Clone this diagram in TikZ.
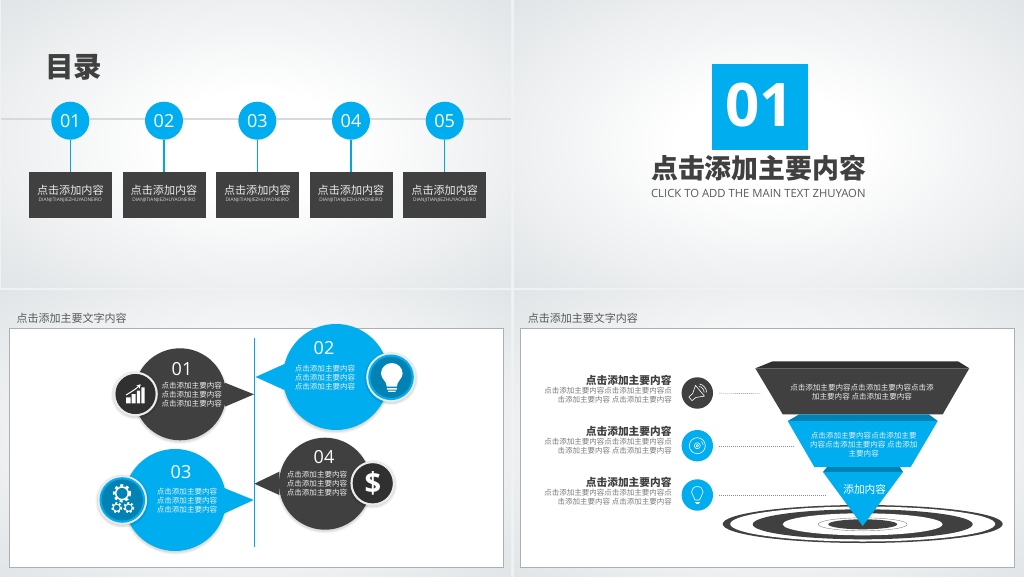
\documentclass[tikz,border=0pt]{standalone}
\usepackage{fontspec}
\setmainfont{Open Sans}
\newfontfamily\cjk{Noto Sans CJK SC}
\usetikzlibrary{arrows.meta,calc}
\definecolor{BlueClr}{HTML}{00AEEF}
\definecolor{DeepClr}{HTML}{0082B4}
\definecolor{DarkClr}{HTML}{404040}
\definecolor{BandClr}{HTML}{303030}
\definecolor{RuleClr}{HTML}{D6DADB}
\definecolor{EdgeClr}{HTML}{ADB0B2}
\definecolor{PageClr}{HTML}{EFF1F2}
\definecolor{MidClr}{HTML}{EDEFF0}
\definecolor{RimClr}{HTML}{E1E5E7}
\pgfdeclareradialshading{PanelShade}{\pgfpoint{0bp}{0bp}}{color(0bp)=(white);color(9bp)=(white);color(25bp)=(MidClr);color(35bp)=(RimClr);color(50bp)=(RimClr)}
\newcommand{\zh}[1]{\cjk\fontsize{#1}{#1}\selectfont}
\newcommand{\zhl}[1]{\cjk\fontsize{#1}{9}\selectfont}
\tikzset{
numcirc/.style={circle,fill=BlueClr,text=white,minimum size=38pt,inner sep=0pt,font=\fontsize{18}{18}\selectfont},
listbox/.style={rectangle,fill=DarkClr,minimum width=83pt,minimum height=45.5pt,inner sep=0pt},
bubtext/.style={inner sep=0pt,align=center,text=white!93!black,font=\zhl{7.55}},
bubnum/.style={inner sep=0pt,text=white,font=\fontsize{18}{18}\selectfont},
sidehead/.style={inner sep=0pt,anchor=east,text=DarkClr,font=\zh{10.7}\bfseries},
sidetext/.style={inner sep=0pt,anchor=east,align=right,text=black!52,font=\zhl{7.5}},
sidecirc/.style={circle,minimum size=31.4pt,inner sep=0pt},
guide/.style={draw=black!45,line width=.4pt,dash pattern=on 1.2pt off .8pt,shorten <=6pt},
heading/.style={inner sep=0pt,anchor=west,text=black!65,font=\zh{11}},
iconline/.style={draw=white,line width=.6pt,line join=round}
}

\begin{document}
\begin{tikzpicture}[x=1pt,y=-1pt]
\useasboundingbox (0,0) rectangle (1024,577);
\fill[PageClr] (0,0) rectangle (1024,577);
\foreach \xa/\ya/\xb/\yb in {1/0/511/287,514/0/1024/287,0/290/511/577,514/290/1024/577}
\shade[shading=PanelShade] (\xa,\ya) rectangle (\xb,\yb);

\node[inner sep=0pt,text=DarkClr,font=\zh{28.5}\bfseries] (Title) at (73.5,67) {目录};
\draw[RuleClr,line width=2pt] (1,118.7) -- (511,118.7);
\foreach \i/\cx in {1/70.3,2/164,3/257.3,4/351,5/444.7}{
\node[numcirc] (N\i) at (\cx,120.7) {0\i};
\node[listbox] (B\i) at (\cx,195.2) {};
\draw[BlueClr!80!DeepClr,line width=1.1pt] (N\i) -- (B\i);
\node[inner sep=0pt,text=white!92!black,font=\zh{11.1}] (T\i) at (\cx,190.7) {点击添加内容};
\node[inner sep=0pt,text=white!85!black,font=\fontsize{4.8}{5}\selectfont] (S\i) at (\cx,200) {DIANJITIANJIEZHUYAONEIRO};
}

\node[rectangle,fill=BlueClr,minimum width=95.7pt,minimum height=85.7pt,inner sep=0pt] (CoverBox) at (759.8,106.9) {};
\node[inner sep=0pt,text=white,font=\fontsize{60}{60}\selectfont\bfseries] (CoverNum) at (759.8,105) {01};
\node[inner sep=0pt,text=DarkClr,font=\zh{26.9}\bfseries] (CoverHead) at (758.7,168) {点击添加主要内容};
\node[inner sep=0pt,text=black!65,font=\fontsize{11.3}{12}\selectfont] (CoverSub) at (758.3,193) {CLICK TO ADD THE MAIN TEXT ZHUYAON};

\node[heading] (HeadL) at (16.5,318) {点击添加主要文字内容};
\node[heading] (HeadR) at (527.7,318) {点击添加主要文字内容};
\draw[EdgeClr,fill=white,line width=.8pt] (9.4,328.7) rectangle (503.7,567.4);
\draw[EdgeClr,fill=white,line width=.8pt] (520.4,328.7) rectangle (1014.7,567.4);

\foreach \cx/\cy/\r/\tx/\bx/\up/\lo/\clr in {180/394.3/46/254/225/382.7/406.7/DarkClr,336/377/53/255.5/286/363.3/390.7/BlueClr,175/500/51/253.7/221/486.7/515/BlueClr,325/483.7/46/254.3/279.3/471.7/495/DarkClr}{
\foreach \s in {0,1,2,3}
\fill[black,opacity=.035] (\cx,\cy+1.5) circle (\r+\s*.7);
\fill[\clr] (\cx,\cy) circle (\r);
\fill[\clr] (\bx,\up) -- (\tx,\cy) -- (\bx,\lo) -- cycle;
}
\draw[BlueClr!80!DeepClr,line width=1.1pt] (254.5,338) -- (254.5,546.7);

\foreach \cx/\cy/\ra/\rb/\rc/\clr/\rim in {135.5/394/22.3/20/19.8/BandClr/BandClr,372.7/483.3/22.3/20/19.8/BandClr/BandClr,391/377.3/24.8/22.8/20.6/BlueClr/DeepClr,122.3/500/24.8/22.8/20.6/BlueClr/DeepClr}{
\foreach \s in {0,1,2,3}
\fill[black,opacity=.035] (\cx,\cy+1) circle (\ra+\s*.7);
\fill[white!92!black] (\cx,\cy) circle (\ra);
\fill[\clr] (\cx,\cy) circle (\rb);
\fill[\rim] (\cx,\cy) circle (\rc);
}

\node[bubnum] (NumA) at (182,369) {01};
\node[bubtext] (TextA) at (191.7,394.5) {点击添加主要内容\\点击添加主要内容\\点击添加主要内容};
\node[bubnum] (NumB) at (324,347.7) {02};
\node[bubtext] (TextB) at (325,378) {点击添加主要内容\\点击添加主要内容\\点击添加主要内容};
\node[bubnum] (NumC) at (181,471.7) {03};
\node[bubtext] (TextC) at (187,501) {点击添加主要内容\\点击添加主要内容\\点击添加主要内容};
\node[bubnum] (NumD) at (324,457) {04};
\node[bubtext] (TextD) at (317,483.7) {点击添加主要内容\\点击添加主要内容\\点击添加主要内容};

\fill[white] (126,397.3) rectangle (130.5,403.3) (131.7,394) rectangle (135.5,403.3) (136.8,390.7) rectangle (140.2,403.3) (141.3,387.3) rectangle (144.5,403.3);
\draw[white,line width=1pt,-{Stealth[length=4pt,width=4.5pt]}] (126,395) .. controls (131,392) and (136,389) .. (140.7,384.3);

\fill[white] (386.8,386.5) .. controls (386.8,381) and (381,379) .. (381,373.5) arc[start angle=180,end angle=360,x radius=10.8,y radius=10.5] .. controls (402.6,379) and (396.8,381) .. (396.8,386.5) -- cycle;
\fill[white] (386.8,388.2) rectangle (396.8,389.6) (388,390.6) rectangle (395.6,391.8);

\draw[white,line width=1.5pt] (122,493.3) circle (6.3);
\draw[white,line width=2.6pt,dash pattern=on 2.9pt off 2.9pt] (122,493.3) circle (7.8);
\foreach \gx in {116.7,128.7}{
\draw[white,line width=1pt] (\gx,507.7) circle (3.6);
\draw[white,line width=1.8pt,dash pattern=on 2pt off 2pt] (\gx,507.7) circle (4.7);
}

\node[inner sep=0pt,text=white,font=\fontsize{29}{29}\selectfont\bfseries] (Dollar) at (372.9,483.6) {\$};

\fill[DarkClr] (862.7,524) ellipse (140 and 19);
\fill[white] (862.7,524) ellipse (132.5 and 17.5);
\fill[DarkClr] (862.7,524.3) ellipse (110 and 15);
\fill[white] (862.7,524.3) ellipse (80 and 11);
\draw[black!50,line width=.4pt] (862.7,524.3) ellipse (44.5 and 6.5);
\fill[DarkClr] (862.7,524.3) ellipse (34.5 and 5);

\fill[BandClr] (755.3,368.3) -- (772.7,361.3) -- (958,361.3) -- (969.3,368.3) -- cycle;
\fill[DarkClr] (755.3,368.3) -- (969.3,368.3) -- (942.7,414.3) -- (782.7,414.3) -- cycle;
\fill[DeepClr] (787.7,421) -- (799.3,414.3) -- (928.7,414.3) -- (937.7,421) -- cycle;
\fill[BlueClr] (787.7,421) -- (937.7,421) -- (910.7,467) -- (814.3,467) -- cycle;
\fill[DeepClr] (823,472) -- (827,467) -- (899.7,467) -- (903,472) -- cycle;
\fill[BlueClr] (823,472) -- (903,472) -- (862.7,526) -- cycle;

\node[bubtext] (FunnelA) at (862,392) {点击添加主要内容点击添加主要内容点击添\\加主要内容 点击添加主要内容};
\node[bubtext] (FunnelB) at (863.7,444.5) {点击添加主要内容点击添加主要\\内容点击添加主要内容 点击添加\\主要内容};
\node[inner sep=0pt,text=white,font=\zh{10.7}] (FunnelC) at (864.7,489) {添加内容};

\node[sidehead] (HeadA) at (671.7,380.3) {点击添加主要内容};
\node[sidetext] (LineA) at (672,395.2) {点击添加主要内容点击添加主要内容点\\击添加主要内容 点击添加主要内容};
\node[sidehead] (HeadB) at (671.7,431.7) {点击添加主要内容};
\node[sidetext] (LineB) at (672,446.5) {点击添加主要内容点击添加主要内容点\\击添加主要内容 点击添加主要内容};
\node[sidehead] (HeadC) at (671.7,482.3) {点击添加主要内容};
\node[sidetext] (LineC) at (672,496.8) {点击添加主要内容点击添加主要内容点\\击添加主要内容 点击添加主要内容};

\node[sidecirc,fill=DarkClr] (IconA) at (697.3,393) {};
\node[sidecirc,fill=BlueClr] (IconB) at (697.3,445.7) {};
\node[sidecirc,fill=BlueClr] (IconC) at (697.3,495) {};

\coordinate (EndA) at (760.3,393.5);
\coordinate (EndB) at (795,445.7);
\coordinate (EndC) at (827,495);
\draw[guide] (IconA) -- (EndA);
\draw[guide] (IconB) -- (EndB);
\draw[guide] (IconC) -- (EndC);

\begin{scope}[shift={(697.3,393)},rotate=40]
\draw[iconline] (-9,-2.5) -- (-4,-2.5) -- (3.5,-7) -- (3.5,7) -- (-4,2.5) -- (-9,2.5) -- cycle;
\draw[iconline] (5.5,-4) .. controls (7.5,-2) and (7.5,2) .. (5.5,4);
\draw[iconline] (7.5,-5.5) .. controls (10,-2.5) and (10,2.5) .. (7.5,5.5);
\end{scope}

\draw[iconline] (697.3,445.7) circle (8) (697.3,445.7) circle (3) (697.3,445.7) circle (1.3);
\draw[iconline] (701.6,441.4) .. controls (702.6,442.4) and (703,443.6) .. (703.2,444.7);

\draw[iconline] (695,500) .. controls (695,497) and (691.5,495.5) .. (691.5,492) arc[start angle=180,end angle=360,x radius=5.8,y radius=5.5] .. controls (703.1,495.5) and (699.6,497) .. (699.6,500) -- cycle;
\draw[iconline] (695,501.8) -- (699.6,501.8) (696,503.3) -- (698.6,503.3);

\end{tikzpicture}
\end{document}
